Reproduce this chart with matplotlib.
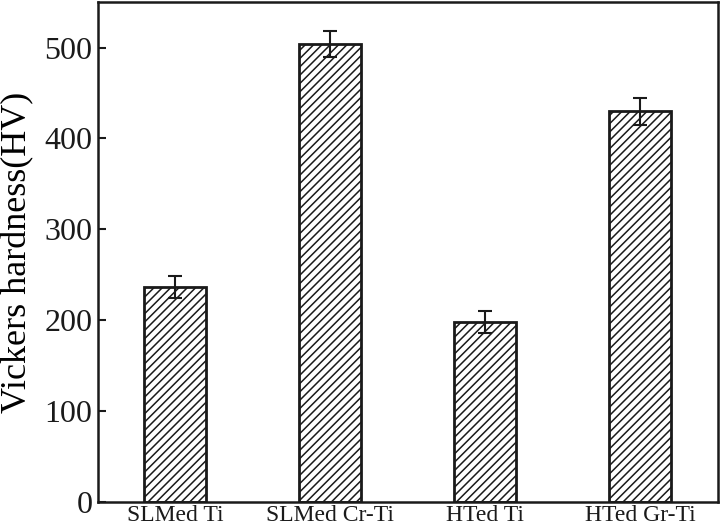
import matplotlib
matplotlib.use("Agg")
import matplotlib.pyplot as plt
import numpy as np

categories = ["SLMed Ti", "SLMed Cr-Ti", "HTed Ti", "HTed Gr-Ti"]
hardness = [237, 504, 198, 430]
errors = [12, 14, 12, 15]
yticks = [0, 100, 200, 300, 400, 500]

plt.rcParams['font.family'] = ['Liberation Serif', 'DejaVu Serif']
plt.rcParams['hatch.linewidth'] = 1.1
plt.rcParams['hatch.color'] = '#1a1a1a'

fig = plt.figure(figsize=(7.2, 5.31), dpi=100)
ax = fig.add_axes([0.136, 0.0546, 0.861, 0.9414])

x = np.arange(1, len(categories) + 1)
ax.bar(x, hardness, width=0.4, facecolor='white', edgecolor='#1a1a1a',
       linewidth=2.0, hatch='////', zorder=2)
ax.errorbar(x, hardness, yerr=errors, fmt='none', ecolor='#1a1a1a',
            elinewidth=1.5, capsize=5, capthick=1.5, zorder=3)

ax.set_xlim(0.5, 4.5)
ax.set_ylim(0, 550)
ax.set_yticks(yticks)
ax.set_xticks(x)
ax.set_xticklabels(categories, fontsize=17)
ax.set_ylabel("Vickers hardness(HV)", fontsize=26, labelpad=7)
ax.tick_params(axis='y', direction='in', length=6, width=1.5, labelsize=23, pad=4, colors='#1a1a1a')
ax.tick_params(axis='x', direction='in', length=5, width=1.3, pad=2.5, colors='#1a1a1a')
for s in ax.spines.values():
    s.set_linewidth(1.8)
    s.set_color('#1a1a1a')

fig.savefig("out.png", dpi=100)
